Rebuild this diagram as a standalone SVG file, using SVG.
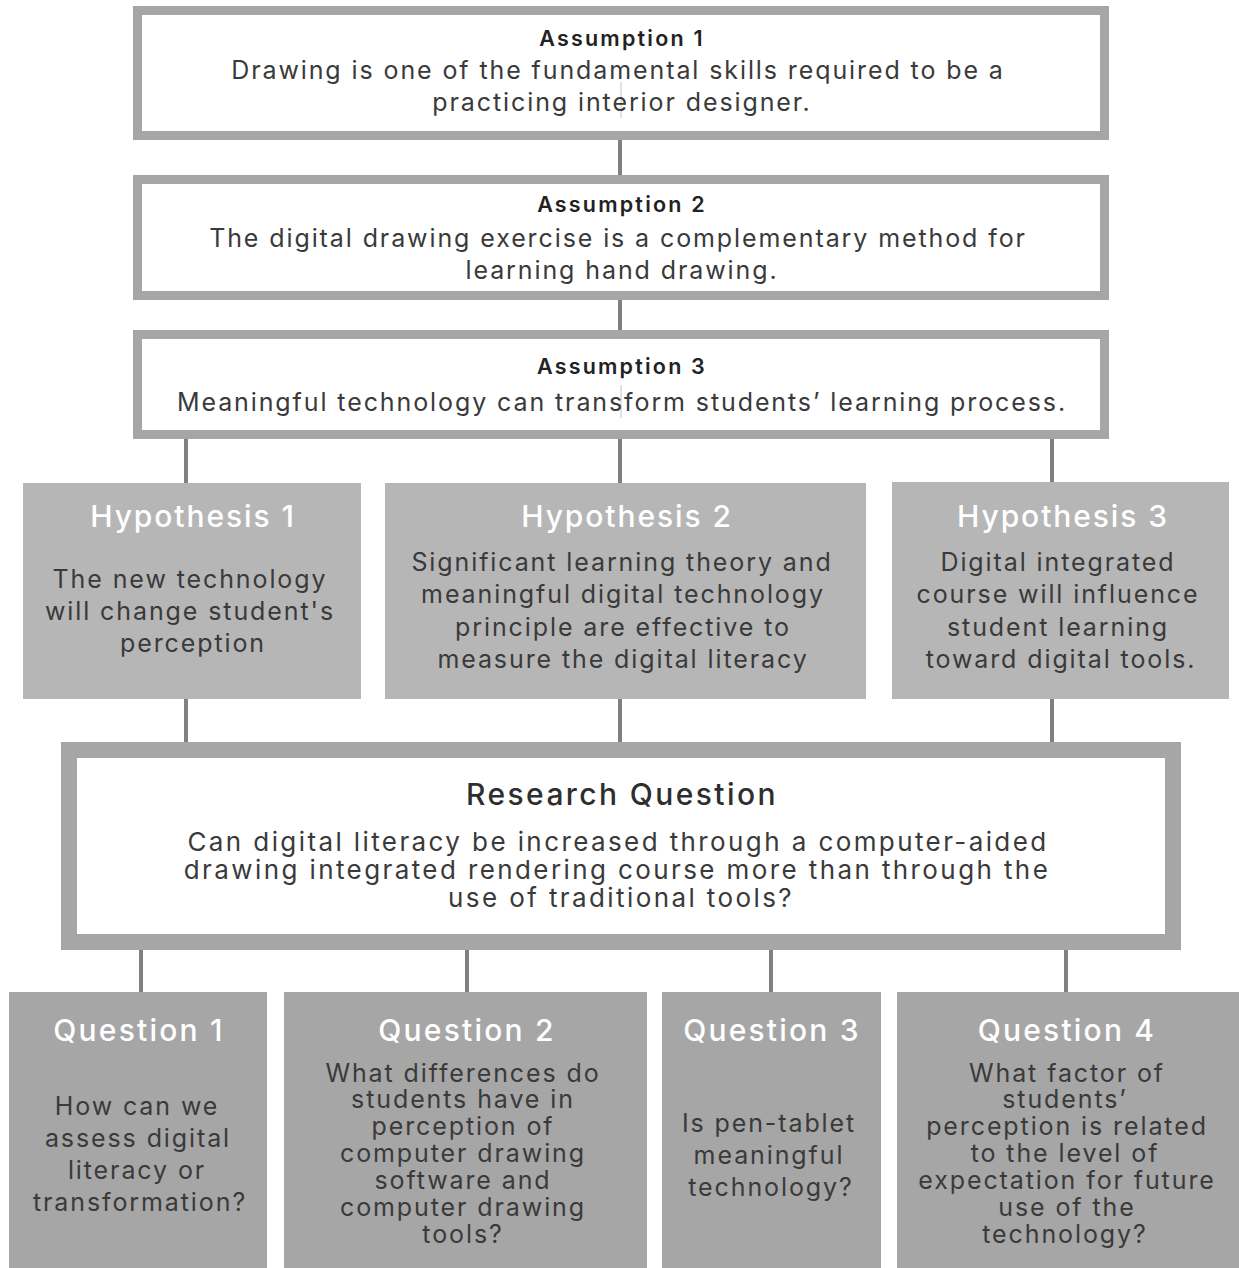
<svg xmlns="http://www.w3.org/2000/svg" width="1239" height="1268" viewBox="0 0 1239 1268">
<style>
.abox{fill:#fff;stroke:#a6a6a6;stroke-width:9}
.rbox{fill:#fff;stroke:#a6a6a6;stroke-width:16}
.hbox{fill:#b6b6b6}
.qbox{fill:#a6a6a6}
.conn line{stroke:#808080;stroke-width:4}
.art{stroke:#c4c4c4;stroke-width:1}
text{font-family:Inter,"DejaVu Sans",sans-serif;text-anchor:middle}
.at{font-size:21.5px;font-weight:600;fill:#222;letter-spacing:2.2px}
.body{font-size:25px;fill:#3a3a3a;letter-spacing:1.9px}
.rb{font-size:26px;fill:#3a3a3a;letter-spacing:2.4px}
.ht{font-size:30px;font-weight:500;fill:#fff;letter-spacing:1.9px}
.qt{font-size:30px;font-weight:500;fill:#fff;letter-spacing:2.2px}
.rt{font-size:30px;font-weight:500;fill:#2e2e2e;letter-spacing:2.4px}
</style>
<g class="conn" id="connectors">
<line x1="620" y1="140" x2="620" y2="175"/>
<line x1="620" y1="300" x2="620" y2="330"/>
<line x1="186" y1="439" x2="186" y2="483"/>
<line x1="620" y1="439" x2="620" y2="483"/>
<line x1="1052" y1="439" x2="1052" y2="483"/>
<line x1="186" y1="699" x2="186" y2="742"/>
<line x1="620" y1="699" x2="620" y2="742"/>
<line x1="1052" y1="699" x2="1052" y2="742"/>
<line x1="141" y1="950" x2="141" y2="992"/>
<line x1="467" y1="950" x2="467" y2="992"/>
<line x1="771" y1="950" x2="771" y2="992"/>
<line x1="1066" y1="950" x2="1066" y2="992"/>
</g>
<g id="assumption1">
<rect class="abox" x="137.5" y="10.5" width="967" height="125"/>
<line class="art" x1="621" y1="82" x2="621" y2="118"/>
<text class="at" x="622" y="46">Assumption 1</text>
<text class="body" x="618" y="79">Drawing is one of the fundamental skills required to be a</text>
<text class="body" x="622" y="111">practicing interior designer.</text>
</g>
<g id="assumption2">
<rect class="abox" x="137.5" y="179.5" width="967" height="116"/>
<text class="at" x="622" y="212">Assumption 2</text>
<text class="body" x="618" y="247">The digital drawing exercise is a complementary method for</text>
<text class="body" x="622" y="279">learning hand drawing.</text>
</g>
<g id="assumption3">
<rect class="abox" x="137.5" y="334.5" width="967" height="100"/>
<line class="art" x1="621" y1="385" x2="621" y2="418"/>
<text class="at" x="622" y="374">Assumption 3</text>
<text class="body" x="622" y="411">Meaningful technology can transform students’ learning process.</text>
</g>
<g id="hypothesis1">
<rect class="hbox" x="23" y="483" width="338" height="216"/>
<text class="ht" x="193" y="527">Hypothesis 1</text>
<text class="body" x="190" y="588">The new technology</text>
<text class="body" x="190" y="620">will change student's</text>
<text class="body" x="193" y="652">perception</text>
</g>
<g id="hypothesis2">
<rect class="hbox" x="385" y="483" width="481" height="216"/>
<text class="ht" x="627" y="527">Hypothesis 2</text>
<text class="body" x="622" y="571">Significant learning theory and</text>
<text class="body" x="623" y="603">meaningful digital technology</text>
<text class="body" x="623" y="636">principle are effective to</text>
<text class="body" x="623" y="668">measure the digital literacy</text>
</g>
<g id="hypothesis3">
<rect class="hbox" x="892" y="482" width="337" height="217"/>
<text class="ht" x="1063" y="527">Hypothesis 3</text>
<text class="body" x="1058" y="571">Digital integrated</text>
<text class="body" x="1058" y="603">course will influence</text>
<text class="body" x="1058" y="636">student learning</text>
<text class="body" x="1061" y="668">toward digital tools.</text>
</g>
<g id="research">
<rect class="rbox" x="69" y="750" width="1104" height="192"/>
<text class="rt" x="622" y="805">Research Question</text>
<text class="rb" x="618" y="851">Can digital literacy be increased through a computer-aided</text>
<text class="rb" x="617" y="879">drawing integrated rendering course more than through the</text>
<text class="rb" x="621" y="907">use of traditional tools?</text>
</g>
<g id="question1">
<rect class="qbox" x="9" y="992" width="258" height="276"/>
<text class="qt" x="139" y="1041">Question 1</text>
<text class="body" x="137" y="1115">How can we</text>
<text class="body" x="138" y="1147">assess digital</text>
<text class="body" x="137" y="1179">literacy or</text>
<text class="body" x="140" y="1211">transformation?</text>
</g>
<g id="question2">
<rect class="qbox" x="284" y="992" width="363" height="276"/>
<text class="qt" x="467" y="1041">Question 2</text>
<text class="body" x="463" y="1082">What differences do</text>
<text class="body" x="463" y="1108">students have in</text>
<text class="body" x="463" y="1135">perception of</text>
<text class="body" x="463" y="1162">computer drawing</text>
<text class="body" x="463" y="1189">software and</text>
<text class="body" x="463" y="1216">computer drawing</text>
<text class="body" x="463" y="1243">tools?</text>
</g>
<g id="question3">
<rect class="qbox" x="662" y="992" width="219" height="276"/>
<text class="qt" x="772" y="1041">Question 3</text>
<text class="body" x="769" y="1132">Is pen-tablet</text>
<text class="body" x="769" y="1164">meaningful</text>
<text class="body" x="771" y="1196">technology?</text>
</g>
<g id="question4">
<rect class="qbox" x="897" y="992" width="342" height="276"/>
<text class="qt" x="1067" y="1041">Question 4</text>
<text class="body" x="1067" y="1082">What factor of</text>
<text class="body" x="1065" y="1108">students’</text>
<text class="body" x="1067" y="1135">perception is related</text>
<text class="body" x="1065" y="1162">to the level of</text>
<text class="body" x="1067" y="1189">expectation for future</text>
<text class="body" x="1067" y="1216">use of the</text>
<text class="body" x="1065" y="1243">technology?</text>
</g>
</svg>
